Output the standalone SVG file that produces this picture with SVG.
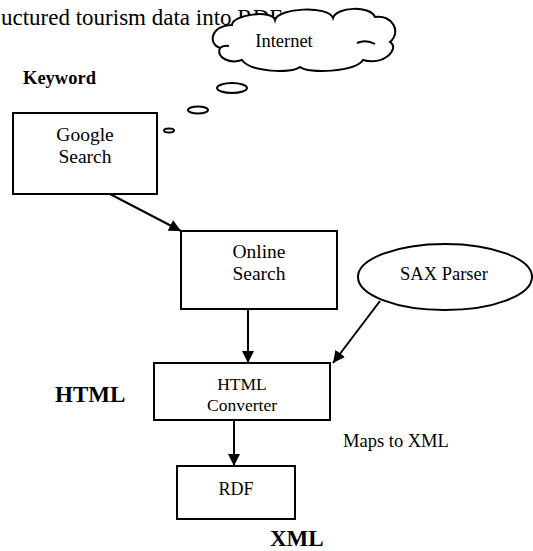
<svg xmlns="http://www.w3.org/2000/svg" width="533" height="551" viewBox="0 0 533 551">
<style>
  .box { fill: #fff; stroke: #000; stroke-width: 2; }
  .curl { fill: none; stroke: #000; stroke-width: 2; }
  text { font-family: "Liberation Serif", "DejaVu Serif", serif; fill: #000; font-weight: normal; }
  text.b { font-weight: bold; }
  .conn { stroke: #000; stroke-width: 2; fill: none; marker-end: url(#arr); }
</style>
<defs>
  <marker id="arr" viewBox="0 0 12 12" refX="12" refY="6" markerWidth="12" markerHeight="12" markerUnits="userSpaceOnUse" orient="auto">
    <path d="M0,0 L12,6 L0,12 Z" fill="#000"/>
  </marker>
</defs>
<rect width="533" height="551" fill="#fff"/>
<text x="1" y="25" font-size="23">uctured tourism data into RDF</text>

<g id="internet">
  <path class="box" d="M232,25 C232,15 272,9 275,20 C278,8 328,5 333,18 C336,7 370,5 375,17 C392,14 402,32 390,42 C400,48 385,66 363,60 C355,72 308,74 300,67 C292,74 250,72 242,60 C230,64 216,58 220,48 C208,44 210,26 232,25 Z"/>
  <path class="curl" d="M220,48 Q223,45 229,46 M357,43 Q366,39 375,44"/>
  <text x="284" y="47" font-size="18.5" text-anchor="middle">Internet</text>
</g>
<g id="bubbles">
  <ellipse class="box" cx="232" cy="88" rx="15" ry="5"/>
  <ellipse class="box" cx="198" cy="110" rx="10" ry="3.5"/>
  <ellipse class="box" cx="169" cy="130.5" rx="5" ry="2"/>
</g>

<text class="b" x="23" y="84" font-size="18.5">Keyword</text>
<text class="b" x="55" y="402" font-size="23">HTML</text>
<text x="343" y="447" font-size="18.5">Maps to XML</text>
<text class="b" x="270" y="546" font-size="23">XML</text>

<g id="google">
  <rect class="box" x="13" y="113" width="144" height="81"/>
  <text x="85" y="141" font-size="19.5" text-anchor="middle">Google</text>
  <text x="85" y="163" font-size="19.5" text-anchor="middle">Search</text>
</g>
<g id="online">
  <rect class="box" x="181" y="231" width="156" height="78"/>
  <text x="259" y="258" font-size="19.5" text-anchor="middle">Online</text>
  <text x="259" y="280" font-size="19.5" text-anchor="middle">Search</text>
</g>
<g id="sax">
  <ellipse class="box" cx="445" cy="277" rx="87" ry="33"/>
  <text x="444" y="280" font-size="18.5" text-anchor="middle">SAX Parser</text>
</g>
<g id="html">
  <rect class="box" x="154" y="363" width="176" height="57"/>
  <text x="242" y="390" font-size="17.5" text-anchor="middle">HTML</text>
  <text x="242" y="411" font-size="17.5" text-anchor="middle">Converter</text>
</g>
<g id="rdf">
  <rect class="box" x="177" y="466" width="118" height="53"/>
  <text x="236" y="495" font-size="18" text-anchor="middle">RDF</text>
</g>

<g id="connectors">
  <line class="conn" x1="110" y1="194" x2="181" y2="231"/>
  <line class="conn" x1="248" y1="309" x2="248" y2="363"/>
  <line class="conn" x1="380" y1="301" x2="333" y2="363"/>
  <line class="conn" x1="234" y1="420" x2="234" y2="466"/>
</g>
</svg>
